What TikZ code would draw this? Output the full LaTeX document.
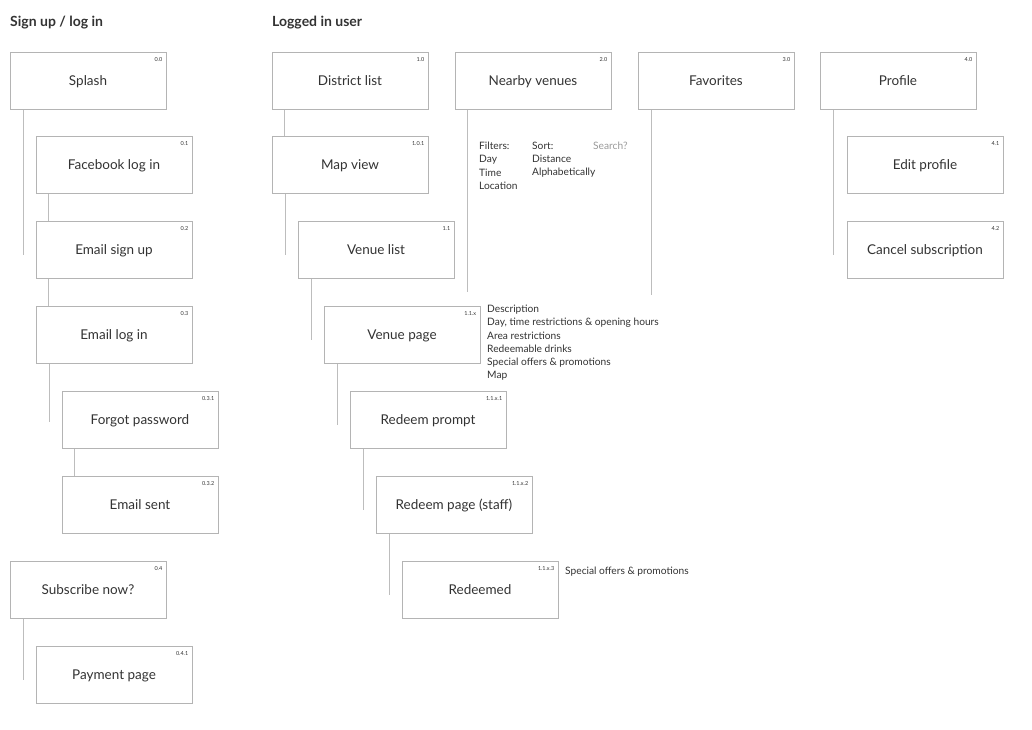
\documentclass[tikz,border=0pt]{standalone}
\usepackage{fontspec}
\setmainfont{Lato}
\definecolor{boxline}{HTML}{B4B4B4}
\definecolor{conn}{HTML}{BDBDBD}
\definecolor{txt}{HTML}{333333}
\definecolor{faint}{HTML}{9A9A9A}
\newcommand{\bx}[5]{%
  \node[screen] (#1) at (#2+78,#3+28) {#4};
  \node[numlbl] (#1-n) at ([xshift=-4pt,yshift=-5pt]#1.north east) {#5};
}
\begin{document}
\begin{tikzpicture}[x=1pt,y=-1pt,
  screen/.style={draw=boxline,line width=0.8pt,fill=white,minimum width=156pt,minimum height=56.5pt,inner sep=0pt,text height=10pt,text depth=0.5pt,font=\fontsize{13.5}{15}\selectfont,text=txt},
  numlbl/.style={anchor=north east,inner sep=0pt,font=\fontsize{5.5}{6}\selectfont,text=txt},
  head/.style={anchor=west,inner sep=0pt,font=\bfseries\fontsize{14}{16}\selectfont,text=txt},
  note/.style={anchor=north west,inner sep=0pt,align=left,font=\fontsize{10.2}{13.2}\selectfont,text=txt},
  link/.style={draw=conn,line width=0.9pt}]
\useasboundingbox (0,0) rectangle (1032,729);
\fill[white] (0,0) rectangle (1032,729);
\node[head] (h1) at (10,22.5) {Sign up / log in};
\node[head] (h2) at (272,22.5) {Logged in user};
% column 1
\bx{splash}{10}{53}{Splash}{0.0}
\bx{fb}{36}{137}{Facebook log in}{0.1}
\bx{esu}{36}{222}{Email sign up}{0.2}
\bx{eli}{36}{307}{Email log in}{0.3}
\bx{fp}{62}{392}{Forgot password}{0.3.1}
\bx{es}{62}{477}{Email sent}{0.3.2}
\bx{sub}{10}{562}{Subscribe now?}{0.4}
\bx{pay}{36}{647}{Payment page}{0.4.1}
% column 2
\bx{dl}{272}{53}{District list}{1.0}
\bx{mv}{272}{137}{Map view}{1.0.1}
\bx{vl}{298}{222}{Venue list}{1.1}
\bx{vp}{324}{307}{Venue page}{1.1.x}
\bx{rp}{350}{392}{Redeem prompt}{1.1.x.1}
\bx{rs}{376}{477}{Redeem page (staff)}{1.1.x.2}
\bx{rd}{402}{562}{Redeemed}{1.1.x.3}
\bx{nv}{455}{53}{Nearby venues}{2.0}
\bx{fav}{638}{53}{Favorites}{3.0}
\bx{prof}{820}{53}{Profile}{4.0}
\bx{ep}{847}{137}{Edit profile}{4.1}
\bx{cs}{847}{222}{Cancel subscription}{4.2}
% free ends
\coordinate (splash-e) at (23,255);
\coordinate (eli-e) at (49,422);
\coordinate (sub-e) at (23,680);
\coordinate (mv-e) at (285,255);
\coordinate (vl-e) at (311,340);
\coordinate (vp-e) at (337,425);
\coordinate (rp-e) at (363,510);
\coordinate (rs-e) at (389,595);
\coordinate (nv-e) at (467,292);
\coordinate (fav-e) at (651,295);
\coordinate (prof-e) at (833,255);
% connectors
\draw[link] (splash.south west -| splash-e) -- (splash-e);
\draw[link] ([xshift=13pt]fb.south west) -- ([xshift=13pt]esu.north west);
\draw[link] ([xshift=13pt]esu.south west) -- ([xshift=13pt]eli.north west);
\draw[link] (eli.south west -| eli-e) -- (eli-e);
\draw[link] ([xshift=13pt]fp.south west) -- ([xshift=13pt]es.north west);
\draw[link] (sub.south west -| sub-e) -- (sub-e);
\draw[link] ([xshift=13pt]dl.south west) -- ([xshift=13pt]mv.north west);
\draw[link] (mv.south west -| mv-e) -- (mv-e);
\draw[link] (vl.south west -| vl-e) -- (vl-e);
\draw[link] (vp.south west -| vp-e) -- (vp-e);
\draw[link] (rp.south west -| rp-e) -- (rp-e);
\draw[link] (rs.south west -| rs-e) -- (rs-e);
\draw[link] (nv.south west -| nv-e) -- (nv-e);
\draw[link] (fav.south west -| fav-e) -- (fav-e);
\draw[link] (prof.south west -| prof-e) -- (prof-e);
% notes
\node[note] (filt) at (479,142) {Filters:\\Day\\Time\\Location};
\node[note] (sort) at (532,142) {Sort:\\Distance\\Alphabetically};
\node[note,text=faint] (srch) at (593,142) {Search?};
\node[note] (vpn) at (487,305) {Description\\Day, time restrictions \& opening hours\\Area restrictions\\Redeemable drinks\\Special offers \& promotions\\Map};
\node[note] (rdn) at (565,567) {Special offers \& promotions};
\end{tikzpicture}
\end{document}
